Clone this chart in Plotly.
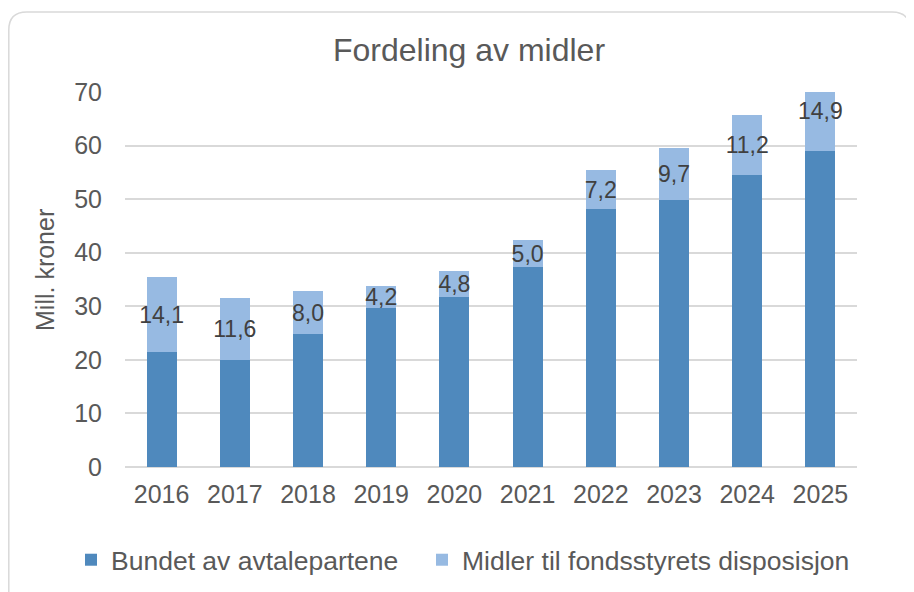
import plotly.graph_objects as go

years = ["2016", "2017", "2018", "2019", "2020", "2021", "2022", "2023", "2024", "2025"]
bundet = [21.4, 19.9, 24.8, 29.6, 31.7, 37.3, 48.2, 49.9, 54.5, 59.0]
midler = [14.1, 11.6, 8.0, 4.2, 4.8, 5.0, 7.2, 9.7, 11.2, 14.9]
midler_labels = [f"{v:.1f}".replace(".", ",") for v in midler]

DARK = "#4F89BD"
LIGHT = "#97BAE2"
TXT = "#595959"
FONT = "Liberation Sans, Arial, sans-serif"

# page is offset by 8px (body margin); figure coords = page coords - 8
L, R, T, B = 117, 849, 84, 459
W, H = 914, 592

def px(fx):
    return (fx - L) / (R - L)

def py(fy):
    return (B - fy) / (B - T)

fig = go.Figure()
fig.add_trace(go.Bar(x=years, y=bundet, name="Bundet av avtalepartene",
                     marker=dict(color=DARK, line=dict(width=0)), legend="legend"))
fig.add_trace(go.Bar(x=years, y=midler, name="Midler til fondsstyrets disposisjon",
                     marker=dict(color=LIGHT, line=dict(width=0)), legend="legend2",
                     text=midler_labels, textposition="inside", insidetextanchor="middle",
                     constraintext="none", textangle=0,
                     textfont=dict(color="#404040", size=23, family=FONT)))

# rounded card border
x0, x1 = px(0.8), px(902)
y0, y1 = py(620), py(4)
rx, ry = 18 / (R - L), 18 / (B - T)
path = (f"M {x0+rx},{y1} L {x1-rx},{y1} Q {x1},{y1} {x1},{y1-ry} "
        f"L {x1},{y0+ry} Q {x1},{y0} {x1-rx},{y0} L {x0+rx},{y0} "
        f"Q {x0},{y0} {x0},{y0+ry} L {x0},{y1-ry} Q {x0},{y1} {x0+rx},{y1} Z")

leg_common = dict(orientation="h", y=py(552), yanchor="middle", xanchor="left",
                  font=dict(size=26.5, color=TXT, family=FONT), bgcolor="rgba(0,0,0,0)")

fig.update_layout(
    width=W, height=H, autosize=False,
    barmode="stack", bargap=0.59,
    paper_bgcolor="white", plot_bgcolor="white",
    margin=dict(l=L, r=W - R, t=T, b=H - B, autoexpand=False),
    font=dict(family=FONT, color=TXT, size=24),
    title=dict(text="Fordeling av midler", x=461 / W, xanchor="center",
               y=1 - 42 / H, yanchor="middle", yref="container",
               font=dict(size=32, color=TXT, family=FONT)),
    xaxis=dict(showgrid=False, showline=False, ticks="", tickangle=0,
               tickfont=dict(size=25, color=TXT), ticklabelstandoff=10),
    yaxis=dict(range=[0, 70], dtick=10, showgrid=True, gridcolor="#D9D9D9", gridwidth=1.5,
               zeroline=True, zerolinecolor="#D9D9D9", zerolinewidth=1.5,
               tickfont=dict(size=25, color=TXT), ticklabelstandoff=22),
    annotations=[dict(text="Mill. kroner", xref="paper", yref="paper",
                      x=px(37), y=py(262), xanchor="center", yanchor="middle",
                      textangle=-90, showarrow=False,
                      font=dict(size=25, color=TXT, family=FONT))],
    legend=dict(x=px(63), **leg_common),
    legend2=dict(x=px(414), **leg_common),
    shapes=[dict(type="path", xref="paper", yref="paper", path=path,
                 line=dict(color="#D9D9D9", width=1.5), layer="below")],
    showlegend=True,
)

fig.write_html("out.html")
